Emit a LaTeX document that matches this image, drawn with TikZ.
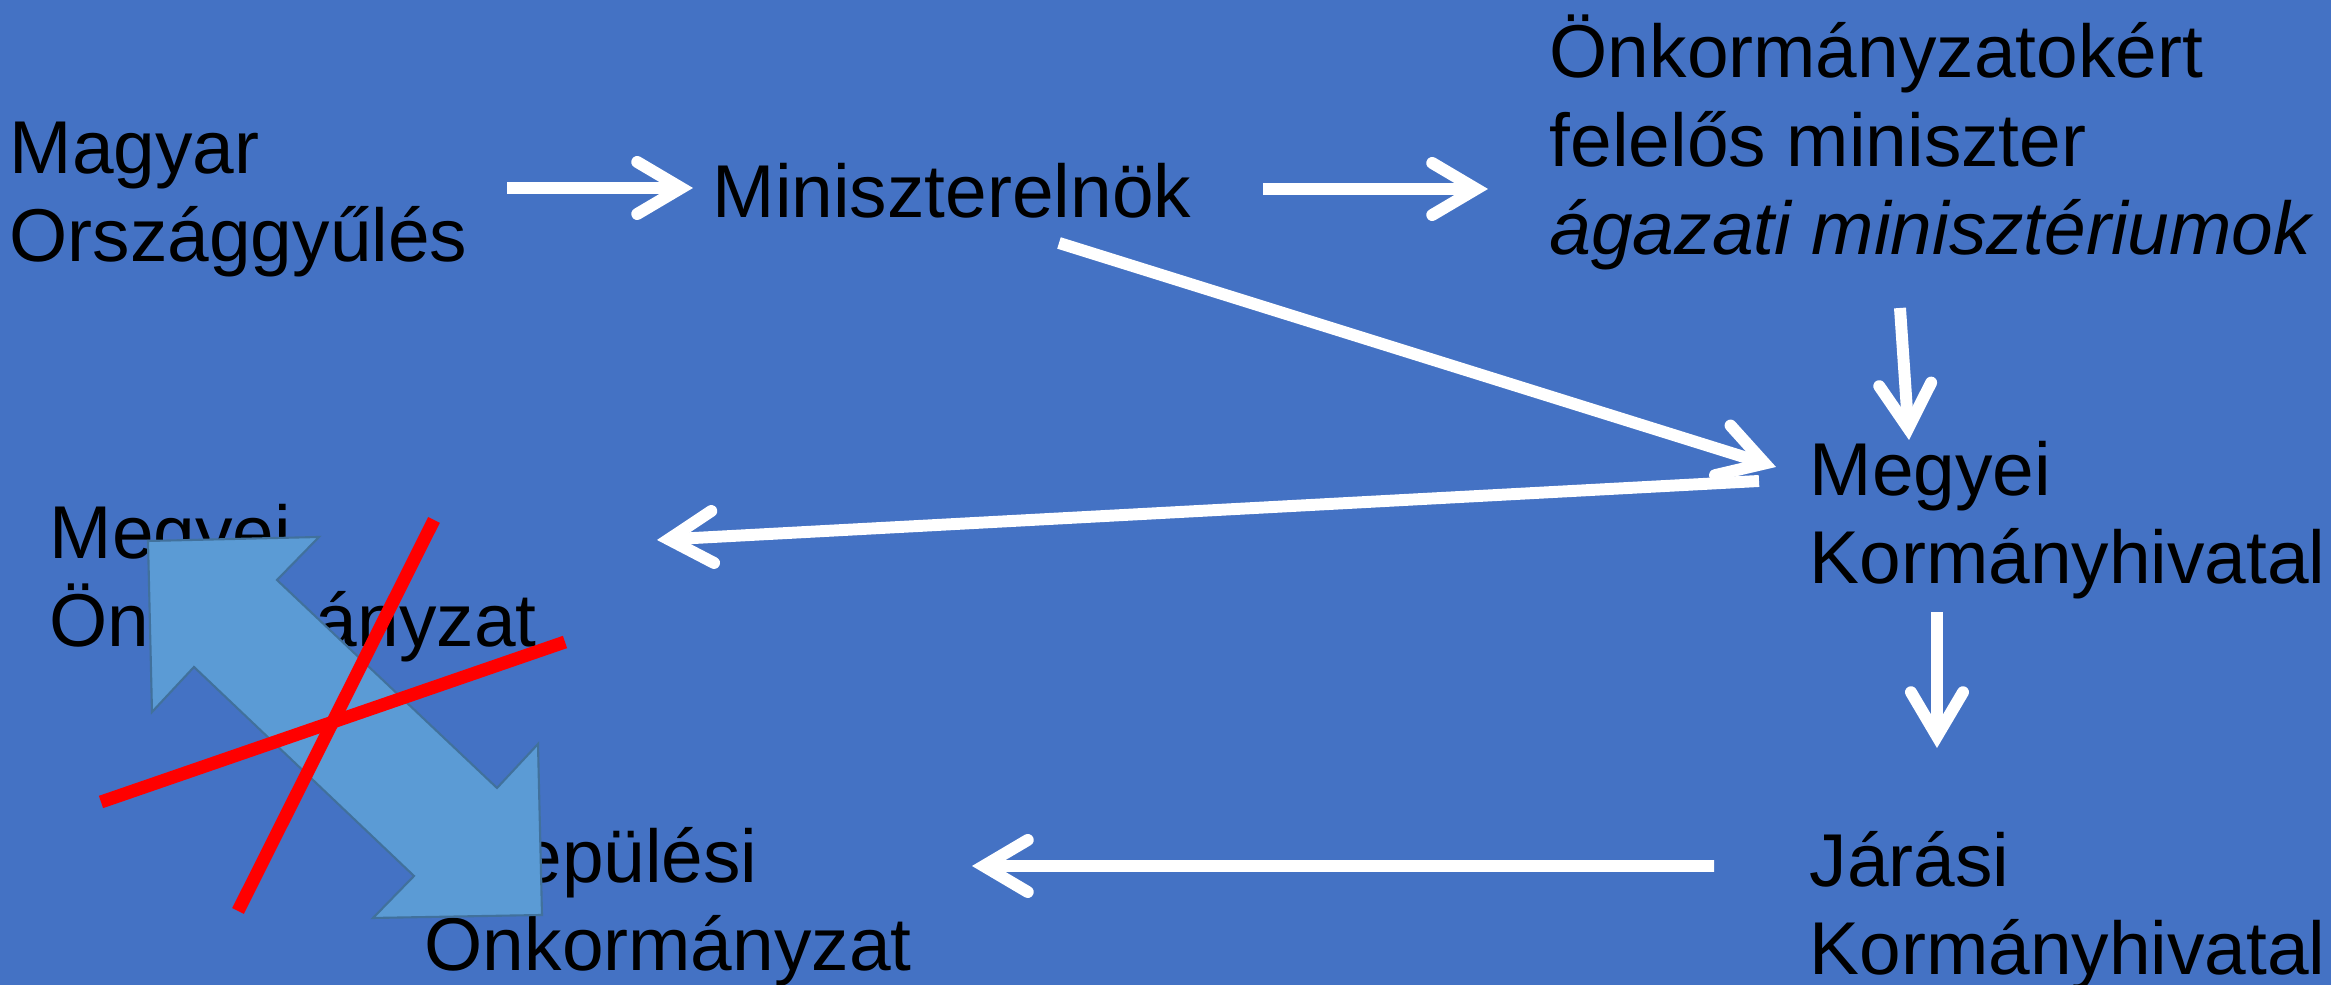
\documentclass[tikz,border=0pt]{standalone}
\usepackage{fontspec}
\setmainfont{Liberation Sans}
\usepackage{tikz}
\usetikzlibrary{arrows.meta}

\definecolor{slideblue}{RGB}{68,114,196}
\definecolor{arrowblue}{RGB}{91,155,213}
\definecolor{arrowedge}{RGB}{65,113,156}

\begin{document}
\begin{tikzpicture}[
    txt/.style={anchor=base west, inner sep=0pt, align=left, font=\fontsize{21.3}{25.3}\selectfont},
    arr/.style={->, >={Straight Barb[length=4.4mm, width=5.2mm, line cap=round]}, draw=white, line width=3.4pt},
    cross/.style={draw=red, line width=3.7pt}]
      \fill[slideblue] (0,0) rectangle (23.31,9.85);
      \useasboundingbox (0,0) rectangle (23.31,9.85);
      % base west = baseline of the last line
      \node[txt](magyar)  at (0.09,7.23) {Magyar\\Országgyűlés};
      \node[txt](minelnok)  at (7.12,7.67) {Miniszterelnök};
      \node[txt](onkmin)  at (15.49,7.30) {Önkormányzatokért\\felelős miniszter\\\textit{ágazati minisztériumok}};
      \node[txt](megyekh)  at (18.09,4.01) {Megyei\\Kormányhivatal};
      \node[txt](jarasi)  at (18.09,0.10) {Járási\\Kormányhivatal};
      \node[txt](megyeonk)  at (0.49,3.38) {Megyei\\Önkormányzat};
      \node[txt](telonk)  at (4.24,0.14) {Települési\\Önkormányzat};
      \draw[arr] ([shift={(4.98,0.74)}]magyar.base west) -- ([shift={(-0.19,0.30)}]minelnok.base west);
      \draw[arr] ([shift={(5.51,0.29)}]minelnok.base west) -- ([shift={(-0.61,0.66)}]onkmin.base west);
      \draw[arr] ([shift={(3.47,-0.25)}]minelnok.base west) -- ([shift={(-0.33,1.17)}]megyekh.base west);
      \draw[arr] ([shift={(-0.50,1.03)}]megyekh.base west) -- ([shift={(6.08,1.07)}]megyeonk.base west);
      \draw[arr] ([shift={(3.51,-0.53)}]onkmin.base west) -- ([shift={(1.00,1.44)}]megyekh.base west);
      \draw[arr] ([shift={(1.28,-0.28)}]megyekh.base west) -- ([shift={(1.28,2.27)}]jarasi.base west);
      \draw[arr] ([shift={(-0.95,1.09)}]jarasi.base west) -- ([shift={(5.48,1.05)}]telonk.base west);
      % crossed out two-way arrow
      \filldraw[fill=arrowblue, draw=arrowedge, line width=0.6pt] (1.48,4.44) -- (3.19,4.48) -- (2.77,4.05) -- (4.97,1.97) -- (5.38,2.41)
          -- (5.42,0.70) -- (3.73,0.67) -- (4.14,1.09) -- (1.94,3.18) -- (1.52,2.73) -- cycle;
      \draw[cross] (4.34,4.65) -- (2.38,0.74);
      \draw[cross] (5.65,3.43) -- (1.01,1.83);
\end{tikzpicture}
\end{document}
